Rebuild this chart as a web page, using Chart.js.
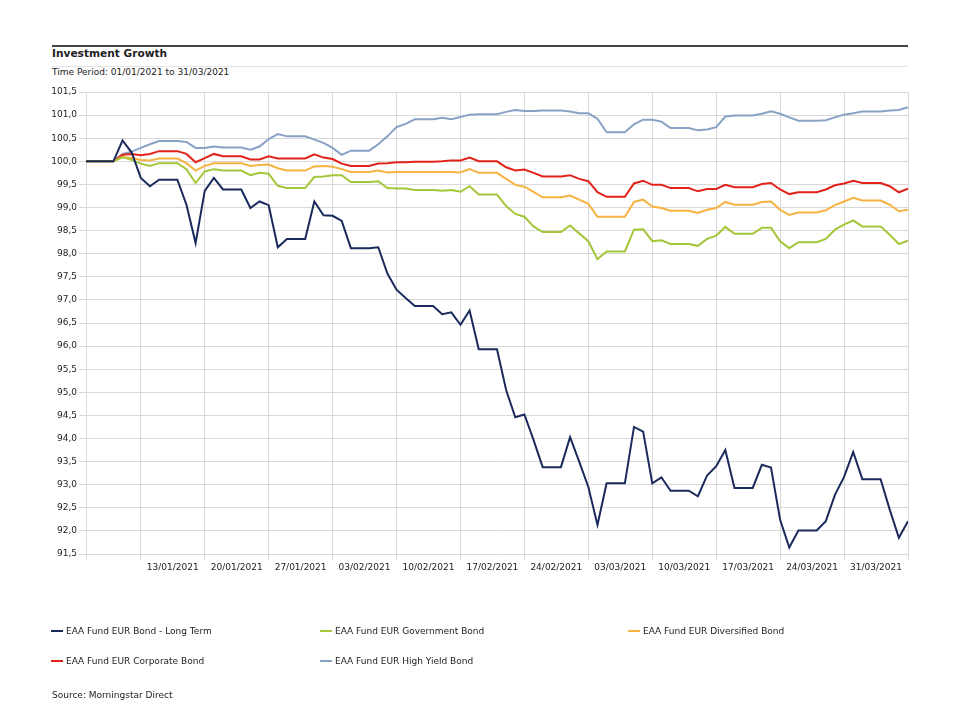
<!DOCTYPE html>
<html>
<head>
<meta charset="utf-8">
<script src="https://cdn.jsdelivr.net/npm/chart.js@4.4.1/dist/chart.umd.min.js"></script>
<style>
  html, body { margin: 0; padding: 0; background: #fff; overflow: hidden; }
  body { width: 960px; height: 720px; position: relative; font-family: "DejaVu Sans", Verdana, sans-serif; color: #222; }
  #wrap { position: absolute; left: 0; top: 0; width: 960px; height: 720px; }
  .rule { position: absolute; left: 52px; width: 856px; }
  .txt { position: absolute; left: 52px; white-space: nowrap; }
  #legend { position: absolute; left: 51px; top: 625px; width: 880px; }
  .item { position: absolute; font-size: 9px; white-space: nowrap; line-height: 12px; }
  .item span.sw { display: inline-block; width: 12px; height: 2px; vertical-align: middle; margin-right: 3px; position: relative; top: -1px; }
</style>
</head>
<body>
<div class="rule" style="top:45px;height:2px;background:#444;"></div>
<div class="txt" style="top:47px;font-size:10.6px;font-weight:bold;">Investment Growth</div>
<div class="rule" style="top:66px;height:1px;background:#e4e4e4;"></div>
<div class="txt" style="top:67px;font-size:9px;">Time Period: 01/01/2021 to 31/03/2021</div>
<div id="wrap"><canvas id="chart"></canvas></div>
<div id="legend"></div>
<div class="txt" style="top:690px;font-size:9px;">Source: Morningstar Direct</div>
<script>
// day 0 = 31/12/2020 (start value 100), day 90 = 31/03/2021
const gridDays = [0, 6, 13, 20, 27, 34, 41, 48, 55, 62, 69, 76, 83, 90];
const tickDays = [13, 20, 27, 34, 41, 48, 55, 62, 69, 76, 83, 90];
const tickLabels = ['13/01/2021', '20/01/2021', '27/01/2021', '03/02/2021', '10/02/2021', '17/02/2021',
                    '24/02/2021', '03/03/2021', '10/03/2021', '17/03/2021', '24/03/2021', '31/03/2021'];

const seriesNames = ['EAA Fund EUR Bond - Long Term', 'EAA Fund EUR Government Bond', 'EAA Fund EUR Diversified Bond',
                     'EAA Fund EUR Corporate Bond', 'EAA Fund EUR High Yield Bond'];
const seriesColors = ['#1b2a5c', '#a4c639', '#f5b342', '#e2231a', '#8aa1c6'];

const longTerm = [100, 100, 100, 100, 100.45, 100.19, 99.64, 99.46, 99.60, 99.60,
  99.60, 99.06, 98.23, 99.36, 99.64, 99.39, 99.39, 99.39, 98.99, 99.13,
  99.05, 98.14, 98.32, 98.32, 98.32, 99.13, 98.83, 98.82, 98.71, 98.12,
  98.12, 98.12, 98.14, 97.57, 97.22, 97.04, 96.87, 96.87, 96.87, 96.69,
  96.73, 96.46, 96.77, 95.93, 95.93, 95.93, 95.05, 94.46, 94.52, 93.97,
  93.38, 93.38, 93.38, 94.03, 93.50, 92.95, 92.13, 93.03, 93.03, 93.03,
  94.25, 94.15, 93.03, 93.16, 92.87, 92.87, 92.87, 92.75, 93.20, 93.40,
  93.75, 92.93, 92.93, 92.93, 93.43, 93.37, 92.24, 91.64, 92.01, 92.01,
  92.01, 92.21, 92.78, 93.17, 93.71, 93.12, 93.12, 93.12, 92.46, 91.85, 92.21];

const government = [100, 100, 100, 100, 100.09, 100.03, 99.95, 99.90, 99.96, 99.96,
  99.96, 99.83, 99.53, 99.78, 99.83, 99.80, 99.80, 99.80, 99.70, 99.75,
  99.73, 99.47, 99.42, 99.42, 99.42, 99.66, 99.67, 99.70, 99.70, 99.55,
  99.55, 99.55, 99.57, 99.42, 99.41, 99.41, 99.38, 99.38, 99.38, 99.36,
  99.38, 99.34, 99.46, 99.28, 99.28, 99.28, 99.03, 98.86, 98.80, 98.59,
  98.47, 98.47, 98.47, 98.61, 98.44, 98.27, 97.88, 98.05, 98.05, 98.05,
  98.52, 98.53, 98.27, 98.29, 98.21, 98.21, 98.21, 98.17, 98.32, 98.39,
  98.58, 98.43, 98.43, 98.43, 98.56, 98.56, 98.27, 98.12, 98.25, 98.25,
  98.25, 98.32, 98.52, 98.63, 98.72, 98.59, 98.59, 98.59, 98.41, 98.21, 98.28];

const diversified = [100, 100, 100, 100, 100.09, 100.07, 100.03, 100.02, 100.06, 100.06,
  100.06, 99.96, 99.80, 99.90, 99.96, 99.96, 99.96, 99.96, 99.90, 99.92,
  99.93, 99.85, 99.80, 99.80, 99.80, 99.89, 99.90, 99.88, 99.83, 99.77,
  99.77, 99.77, 99.80, 99.76, 99.77, 99.77, 99.77, 99.77, 99.77, 99.77,
  99.77, 99.76, 99.83, 99.75, 99.75, 99.75, 99.62, 99.49, 99.45, 99.34,
  99.22, 99.22, 99.22, 99.26, 99.17, 99.08, 98.80, 98.80, 98.80, 98.80,
  99.12, 99.17, 99.02, 98.99, 98.93, 98.93, 98.93, 98.88, 98.95, 98.99,
  99.12, 99.06, 99.06, 99.06, 99.12, 99.13, 98.95, 98.84, 98.89, 98.89,
  98.89, 98.94, 99.05, 99.13, 99.21, 99.15, 99.15, 99.15, 99.06, 98.92, 98.95];

const corporate = [100, 100, 100, 100, 100.14, 100.16, 100.13, 100.16, 100.22, 100.22,
  100.22, 100.16, 99.98, 100.07, 100.16, 100.11, 100.11, 100.11, 100.04, 100.04,
  100.11, 100.06, 100.06, 100.06, 100.06, 100.15, 100.08, 100.05, 99.95, 99.90,
  99.90, 99.90, 99.95, 99.96, 99.98, 99.98, 99.99, 99.99, 99.99, 100.00,
  100.02, 100.02, 100.08, 100.00, 100.00, 100.00, 99.87, 99.80, 99.82, 99.75,
  99.67, 99.67, 99.67, 99.70, 99.62, 99.57, 99.33, 99.23, 99.23, 99.23,
  99.52, 99.58, 99.49, 99.49, 99.42, 99.42, 99.42, 99.35, 99.40, 99.40,
  99.49, 99.44, 99.44, 99.44, 99.51, 99.53, 99.39, 99.29, 99.33, 99.33,
  99.33, 99.39, 99.48, 99.52, 99.58, 99.53, 99.53, 99.53, 99.46, 99.33, 99.41];

const highYield = [100, 100, 100, 100, 100.16, 100.21, 100.29, 100.37, 100.44, 100.44,
  100.44, 100.42, 100.29, 100.29, 100.32, 100.30, 100.30, 100.30, 100.25, 100.32,
  100.48, 100.59, 100.54, 100.54, 100.54, 100.47, 100.40, 100.29, 100.14, 100.23,
  100.23, 100.23, 100.37, 100.54, 100.74, 100.81, 100.91, 100.91, 100.91, 100.94,
  100.91, 100.96, 101.01, 101.02, 101.02, 101.02, 101.07, 101.11, 101.09, 101.09,
  101.10, 101.10, 101.10, 101.08, 101.04, 101.04, 100.92, 100.63, 100.63, 100.63,
  100.80, 100.90, 100.90, 100.86, 100.72, 100.72, 100.72, 100.67, 100.69, 100.74,
  100.97, 100.99, 100.99, 100.99, 101.03, 101.08, 101.03, 100.95, 100.88, 100.88,
  100.88, 100.89, 100.95, 101.01, 101.04, 101.08, 101.08, 101.08, 101.10, 101.11, 101.17];

const allSeries = [longTerm, government, diversified, corporate, highYield];
const fontFam = '"DejaVu Sans", Verdana, sans-serif';
const gridColor = '#d9d9d9';

const ctx = document.getElementById('chart');

myChart = new Chart(ctx, {
  type: 'line',
  data: {
    datasets: allSeries.map((vals, k) => ({
      label: seriesNames[k],
      data: vals.map((v, i) => ({ x: i, y: v })),
      borderColor: seriesColors[k],
      backgroundColor: seriesColors[k],
      borderWidth: 2,
      pointRadius: 0,
      pointHoverRadius: 0,
      tension: 0,
      fill: false
    }))
  },
  options: {
    responsive: true,
    maintainAspectRatio: false,
    animation: false,
    layout: { padding: { left: 0, right: 52, top: 92, bottom: 136 } },
    plugins: { legend: { display: false }, tooltip: { enabled: false } },
    scales: {
      x: {
        type: 'linear',
        min: 0,
        max: 90,
        afterBuildTicks: function(axis) {
          axis.ticks = gridDays.map(d => ({ value: d }));
        },
        afterFit: function(scale) { scale.height = 30; },
        grid: { color: gridColor, tickLength: 6, lineWidth: 1 },
        border: { color: gridColor },
        ticks: {
          autoSkip: false,
          maxRotation: 0,
          minRotation: 0,
          labelOffset: -32,
          padding: 2,
          color: '#222',
          font: { family: fontFam, size: 9 },
          callback: function(value) {
            const k = tickDays.indexOf(value);
            return k >= 0 ? tickLabels[k] : '';
          }
        }
      },
      y: {
        min: 91.5,
        max: 101.5,
        afterFit: function(scale) { scale.width = 86; },
        grid: { color: gridColor, tickLength: 7, lineWidth: 1 },
        border: { color: gridColor },
        ticks: {
          stepSize: 0.5,
          padding: 2,
          color: '#222',
          font: { family: fontFam, size: 9 },
          callback: function(value) { return value.toFixed(1).replace('.', ','); }
        }
      }
    }
  }
});

// legend in three columns, like the original report
const legendPos = [[0, 0], [269, 0], [577, 0], [0, 30], [269, 30]];
const legendBox = document.getElementById('legend');
myChart.data.datasets.forEach(function(ds, k) {
  const el = document.createElement('div');
  el.className = 'item';
  el.style.left = legendPos[k][0] + 'px';
  el.style.top = legendPos[k][1] + 'px';
  el.innerHTML = '<span class="sw" style="background:' + ds.borderColor + '"></span>' + ds.label;
  legendBox.appendChild(el);
});
</script>
</body>
</html>
